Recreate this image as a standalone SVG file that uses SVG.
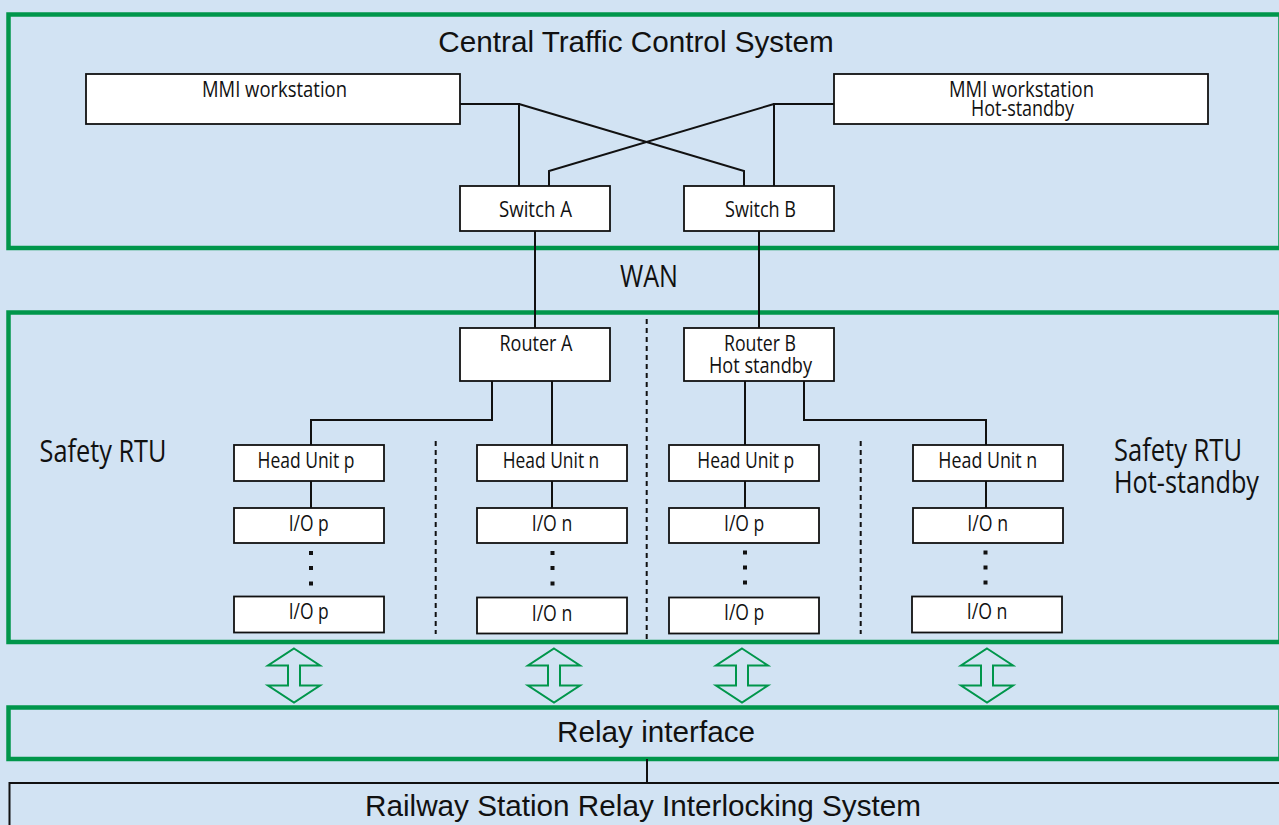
<svg xmlns="http://www.w3.org/2000/svg" width="1279" height="825" viewBox="0 0 1279 825">
<style>
.bg{fill:#D2E3F3}
.grp{fill:none;stroke:#00964B;stroke-width:4.5}
.box{fill:#FFFFFF;stroke:#111;stroke-width:1.8}
.ln{fill:none;stroke:#111;stroke-width:2}
.dash{fill:none;stroke:#111;stroke-width:2;stroke-dasharray:5 4}
.dot{fill:#111}
.arr{fill:none;stroke:#00964B;stroke-width:2}
.big{font-family:"Liberation Sans",Arial,sans-serif;font-size:29.7px;fill:#111}
.sm{font-family:"Open Sans","Noto Sans",sans-serif;font-size:22px;fill:#111}
.lg{font-family:"Open Sans","Noto Sans",sans-serif;font-size:31px;fill:#111}
</style>
<defs>
<polygon id="dblarrow" class="arr" points="0,-26.5 26,-9.5 6,-9.5 6,10.5 26,10.5 0,27.5 -26,10.5 -6,10.5 -6,-9.5 -26,-9.5"/>
</defs>
<rect class="bg" x="0" y="0" width="1279" height="825"/>

<g id="ctc-system">
<rect class="grp" x="8.5" y="14.5" width="1272" height="233.5"/>
<text class="big" x="636" y="52" text-anchor="middle">Central Traffic Control System</text>
</g>
<g id="wan-label"><text class="lg" x="620" y="287" textLength="58" lengthAdjust="spacingAndGlyphs" font-size="27px">WAN</text></g>
<g id="safety-rtu">
<rect class="grp" x="8.5" y="312.5" width="1272" height="329.5"/>
<text class="lg" x="39.5" y="461.5" textLength="127" lengthAdjust="spacingAndGlyphs">Safety RTU</text>
<text class="lg" x="1114" y="461" textLength="128" lengthAdjust="spacingAndGlyphs">Safety RTU</text>
<text class="lg" x="1114" y="493" textLength="145" lengthAdjust="spacingAndGlyphs">Hot-standby</text>
</g>
<g id="relay-interface">
<rect class="grp" x="8.5" y="707.5" width="1272" height="51.5"/>
<text class="big" x="656" y="741.5" text-anchor="middle">Relay interface</text>
</g>
<g id="interlocking">
<rect x="9.5" y="783" width="1285" height="60" fill="none" stroke="#111" stroke-width="2"/>
<text class="big" x="365" y="816">Railway Station Relay Interlocking System</text>
</g>

<g id="connectors">
<path class="ln" d="M460,104 H519 V186"/>
<path class="ln" d="M519,104 L744,171 V186"/>
<path class="ln" d="M834,104 H774 V186"/>
<path class="ln" d="M774,104 L549,171 V186"/>
<path class="ln" d="M535,231 V328"/>
<path class="ln" d="M759,231 V328"/>
<path class="ln" d="M492,381 V420 H311 V445"/>
<path class="ln" d="M552,381 V445"/>
<path class="ln" d="M745,381 V445"/>
<path class="ln" d="M804,381 V420 H986 V445"/>
<path class="ln" d="M311,481 V508"/>
<path class="ln" d="M552,481 V508"/>
<path class="ln" d="M745,481 V508"/>
<path class="ln" d="M986,481 V508"/>
<path class="ln" d="M647,759 V783"/>
<path class="dash" d="M435.7,441 V634"/>
<path class="dash" d="M646.7,319 V640"/>
<path class="dash" d="M860.7,441 V634"/>
<use href="#dblarrow" x="294" y="675"/>
<use href="#dblarrow" x="554" y="675"/>
<use href="#dblarrow" x="742" y="675"/>
<use href="#dblarrow" x="987" y="675"/>
</g>

<g id="mmi-workstation">
<rect class="box" x="86" y="74" width="374" height="50"/>
<text class="sm" x="202" y="97" textLength="145" lengthAdjust="spacingAndGlyphs">MMI workstation</text>
</g>
<g id="mmi-workstation-hot-standby">
<rect class="box" x="834" y="74" width="374" height="50"/>
<text class="sm" x="949" y="96.5" textLength="145" lengthAdjust="spacingAndGlyphs">MMI workstation</text>
<text class="sm" x="971" y="115.5" textLength="103" lengthAdjust="spacingAndGlyphs">Hot-standby</text>
</g>
<g id="switch-a">
<rect class="box" x="460" y="186" width="150" height="45"/>
<text class="sm" x="499" y="216.5" textLength="73" lengthAdjust="spacingAndGlyphs">Switch A</text>
</g>
<g id="switch-b">
<rect class="box" x="684" y="186" width="150" height="45"/>
<text class="sm" x="725" y="216.5" textLength="71" lengthAdjust="spacingAndGlyphs">Switch B</text>
</g>
<g id="router-a">
<rect class="box" x="460" y="328" width="150" height="53"/>
<text class="sm" x="499.5" y="350.5" textLength="73" lengthAdjust="spacingAndGlyphs">Router A</text>
</g>
<g id="router-b">
<rect class="box" x="684" y="328" width="150" height="53"/>
<text class="sm" x="724" y="350.5" textLength="72" lengthAdjust="spacingAndGlyphs">Router B</text>
<text class="sm" x="709" y="373" textLength="103" lengthAdjust="spacingAndGlyphs">Hot standby</text>
</g>

<g id="head-unit-p-a">
<rect class="box" x="234" y="445" width="150" height="36"/>
<text class="sm" x="257.5" y="468.3" textLength="97" lengthAdjust="spacingAndGlyphs">Head Unit p</text>
</g>
<g id="head-unit-n-a">
<rect class="box" x="477" y="445" width="150" height="36"/>
<text class="sm" x="502.7" y="468.3" textLength="96.6" lengthAdjust="spacingAndGlyphs">Head Unit n</text>
</g>
<g id="head-unit-p-b">
<rect class="box" x="669" y="445" width="150" height="36"/>
<text class="sm" x="697.3" y="468.3" textLength="97" lengthAdjust="spacingAndGlyphs">Head Unit p</text>
</g>
<g id="head-unit-n-b">
<rect class="box" x="913" y="445" width="150" height="36"/>
<text class="sm" x="938.3" y="468.3" textLength="99" lengthAdjust="spacingAndGlyphs">Head Unit n</text>
</g>

<g id="io-p-a-1"><rect class="box" x="234" y="508" width="150" height="35"/><text class="sm" x="288.7" y="530.7" textLength="40" lengthAdjust="spacingAndGlyphs">I/O p</text></g>
<g id="io-p-a-2"><rect class="box" x="234" y="596.5" width="150" height="36"/><text class="sm" x="288.7" y="619.3" textLength="40" lengthAdjust="spacingAndGlyphs">I/O p</text></g>
<g id="io-n-a-1"><rect class="box" x="477" y="508" width="150" height="35"/><text class="sm" x="531.7" y="530.7" textLength="40.6" lengthAdjust="spacingAndGlyphs">I/O n</text></g>
<g id="io-n-a-2"><rect class="box" x="477" y="597.5" width="150" height="36"/><text class="sm" x="531.7" y="620.5" textLength="40.6" lengthAdjust="spacingAndGlyphs">I/O n</text></g>
<g id="io-p-b-1"><rect class="box" x="669" y="508" width="150" height="35"/><text class="sm" x="724" y="530.7" textLength="40.3" lengthAdjust="spacingAndGlyphs">I/O p</text></g>
<g id="io-p-b-2"><rect class="box" x="669" y="597.5" width="150" height="36"/><text class="sm" x="724" y="620.3" textLength="40.3" lengthAdjust="spacingAndGlyphs">I/O p</text></g>
<g id="io-n-b-1"><rect class="box" x="913" y="508" width="150" height="35"/><text class="sm" x="967.3" y="530.7" textLength="40.7" lengthAdjust="spacingAndGlyphs">I/O n</text></g>
<g id="io-n-b-2"><rect class="box" x="912" y="596.5" width="150" height="36"/><text class="sm" x="966.7" y="619.3" textLength="40.7" lengthAdjust="spacingAndGlyphs">I/O n</text></g>

<g id="ellipsis-dots">
<rect class="dot" x="309" y="551" width="4" height="4"/><rect class="dot" x="309" y="566" width="4" height="4"/><rect class="dot" x="309" y="581.5" width="4" height="4"/>
<rect class="dot" x="550.5" y="551" width="4" height="4"/><rect class="dot" x="550.5" y="566" width="4" height="4"/><rect class="dot" x="550.5" y="581.5" width="4" height="4"/>
<rect class="dot" x="743" y="550.5" width="4" height="4"/><rect class="dot" x="743" y="565.5" width="4" height="4"/><rect class="dot" x="743" y="580.5" width="4" height="4"/>
<rect class="dot" x="983.5" y="550.5" width="4" height="4"/><rect class="dot" x="983.5" y="565.5" width="4" height="4"/><rect class="dot" x="983.5" y="580.5" width="4" height="4"/>
</g>
</svg>
